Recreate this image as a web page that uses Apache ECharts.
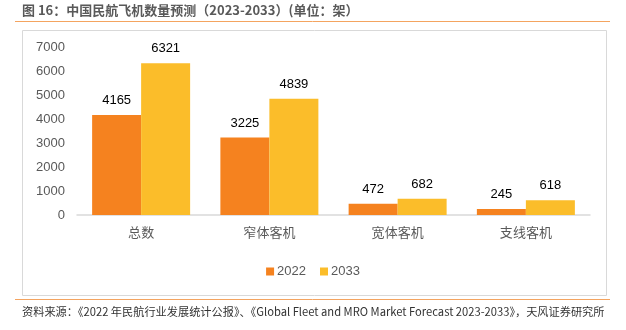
<!DOCTYPE html>
<html><head><meta charset="utf-8">
<script src="https://cdn.jsdelivr.net/npm/echarts@6/dist/echarts.min.js"></script>
<style>html,body{margin:0;padding:0;background:#fff}#c{width:626px;height:330px}</style>
</head><body><div id="c"></div>
<script>
const categories = ['总数', '窄体客机', '宽体客机', '支线客机'];
const series2022 = [4165, 3225, 472, 245];
const series2033 = [6321, 4839, 682, 618];
const yTicks = [0, 1000, 2000, 3000, 4000, 5000, 6000, 7000];
const titleText = '图 16：中国民航飞机数量预测（2023-2033）(单位：架）';
const sourceText = '资料来源：《2022 年民航行业发展统计公报》、《Global Fleet and MRO Market Forecast 2023-2033》，天风证券研究所';

const chart = echarts.init(document.getElementById('c'), null, {renderer: 'canvas'});
const lbl = {show: true, position: 'top', color: '#000', fontSize: 13, fontFamily: 'Liberation Sans, Arial', distance: 8};
chart.setOption({
  animation: false,
  graphic: [
    {type: 'text', left: 22, top: 4, style: {text: titleText, fill: '#595959', font: 'bold 13px "Noto Sans CJK SC"'}},
    {type: 'line', shape: {x1: 15, y1: 21.5, x2: 610, y2: 21.5}, style: {stroke: '#F4A460', lineWidth: 1}},
    {type: 'rect', shape: {x: 22.5, y: 30.5, width: 584, height: 265}, style: {fill: 'none', stroke: '#D9D9D9', lineWidth: 1}},
    {type: 'line', shape: {x1: 15, y1: 299.5, x2: 610, y2: 299.5}, style: {stroke: '#F4A460', lineWidth: 1}},
    {type: 'text', left: 22, top: 306, style: {text: sourceText, fill: '#333', font: '11.2px "Noto Sans CJK SC"'}}
  ],
  grid: {left: 77, right: 36, top: 47, bottom: 115, containLabel: false},
  legend: {
    top: 260, left: 'center', itemWidth: 8, itemHeight: 8, itemGap: 14,
    icon: 'rect',
    textStyle: {color: '#595959', fontSize: 13, fontFamily: 'Liberation Sans, Arial', padding: [0, 0, 0, -2]},
    data: ['2022', '2033']
  },
  xAxis: {
    type: 'category', data: categories,
    axisLine: {lineStyle: {color: '#D9D9D9', width: 1.5}},
    axisTick: {show: false},
    axisLabel: {color: '#595959', fontSize: 13, fontFamily: '"Noto Sans CJK SC"', margin: 11}
  },
  yAxis: {
    type: 'value', min: yTicks[0], max: yTicks[yTicks.length - 1], interval: 1000,
    axisLine: {show: false}, axisTick: {show: false},
    splitLine: {show: false},
    axisLabel: {color: '#595959', fontSize: 13, fontFamily: 'Liberation Sans, Arial', margin: 12, formatter: v => String(v)}
  },
  series: [
    {name: '2022', type: 'bar', data: series2022, barWidth: 49, barGap: '0%', itemStyle: {color: '#F5821F'}, label: lbl},
    {name: '2033', type: 'bar', data: series2033, barWidth: 49, itemStyle: {color: '#FBBD2A'}, label: lbl}
  ]
});
</script></body></html>
